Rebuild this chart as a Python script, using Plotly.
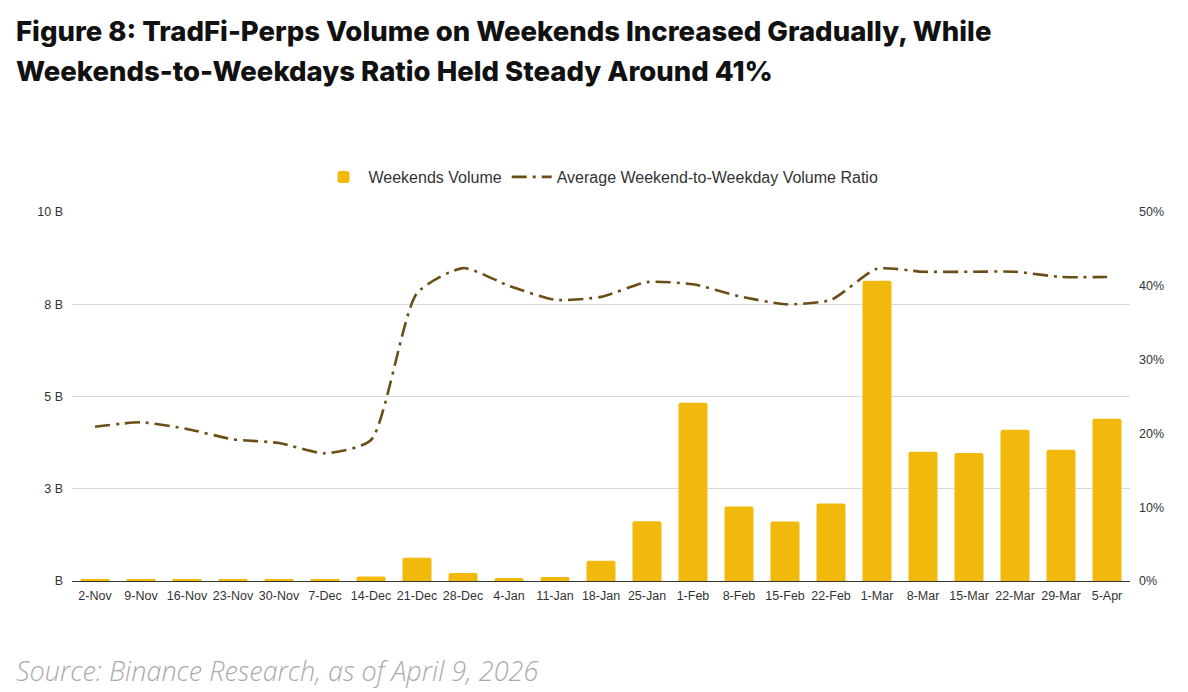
import plotly.graph_objects as go

categories = ["2-Nov", "9-Nov", "16-Nov", "23-Nov", "30-Nov", "7-Dec", "14-Dec", "21-Dec",
              "28-Dec", "4-Jan", "11-Jan", "18-Jan", "25-Jan", "1-Feb", "8-Feb", "15-Feb",
              "22-Feb", "1-Mar", "8-Mar", "15-Mar", "22-Mar", "29-Mar", "5-Apr"]
weekend_volume_b = [0.05, 0.05, 0.05, 0.05, 0.05, 0.05, 0.12, 0.63, 0.22, 0.08, 0.11, 0.55,
                    1.62, 4.83, 2.02, 1.61, 2.10, 8.14, 3.50, 3.47, 4.10, 3.56, 4.40]
ratio = [0.209, 0.215, 0.206, 0.192, 0.187, 0.173, 0.191, 0.390, 0.424, 0.400, 0.381, 0.385,
         0.405, 0.402, 0.386, 0.375, 0.381, 0.423, 0.419, 0.419, 0.419, 0.412, 0.412]
left_tickvals = [0, 2.5, 5, 7.5, 10]
left_ticktext = ["B", "3 B", "5 B", "8 B", "10 B"]
right_tickvals = [0, 0.1, 0.2, 0.3, 0.4, 0.5]

fig = go.Figure()
fig.add_trace(go.Bar(
    x=categories, y=weekend_volume_b, name="Weekends Volume",
    marker=dict(color="#F0B90B", line=dict(width=0)),
))
fig.add_trace(go.Scatter(
    x=categories, y=ratio, name="Average Weekend-to-Weekday Volume Ratio",
    mode="lines", yaxis="y2",
    line=dict(color="#6B4E16", width=2.6, dash="15px,6px,3px,6px", shape="spline", smoothing=0.6),
))

W, H = 1188, 692
L, R, T, B = 72, 58, 212, 111
pw, ph = W - L - R, H - T - B

def px(xp):
    return (xp - L) / pw

def py(yp):
    return (H - B - yp) / ph

fig.update_layout(
    width=W, height=H,
    margin=dict(l=L, r=R, t=T, b=B, autoexpand=False),
    paper_bgcolor="white", plot_bgcolor="white",
    bargap=0.37, barcornerradius=2,
    font=dict(family="Liberation Sans, Arial, sans-serif", color="#333333"),
    showlegend=True,
    legend=dict(orientation="h", x=0.5, xanchor="center", y=py(177), yanchor="middle",
                font=dict(size=16, color="#333333"), itemwidth=40, bgcolor="rgba(0,0,0,0)"),
    xaxis=dict(
        type="category", showgrid=False, showline=True, linecolor="#333333", linewidth=1,
        tickfont=dict(size=12.5, color="#333333"), ticks="", ticklabelstandoff=3,
    ),
    yaxis=dict(
        range=[0, 10], tickvals=left_tickvals, ticktext=left_ticktext,
        showgrid=True, gridcolor="#D9D9D9", gridwidth=1, zeroline=False,
        tickfont=dict(size=12.5, color="#333333"), ticks="", ticklabelstandoff=8,
    ),
    yaxis2=dict(
        range=[0, 0.5], tickvals=right_tickvals, tickformat=".0%", overlaying="y",
        side="right", showgrid=False, zeroline=False,
        tickfont=dict(size=12.5, color="#333333"), ticks="", ticklabelstandoff=8,
    ),
)

title_font = dict(family="Inter, Open Sans, sans-serif", size=27.5, color="#111111", weight=800)
fig.add_annotation(text="Figure 8: TradFi-Perps Volume on Weekends Increased Gradually, While",
                   xref="paper", yref="paper", x=px(14), y=py(31), xanchor="left", yanchor="middle",
                   showarrow=False, font=title_font)
fig.add_annotation(text="Weekends-to-Weekdays Ratio Held Steady Around 41%",
                   xref="paper", yref="paper", x=px(14), y=py(71), xanchor="left", yanchor="middle",
                   showarrow=False, font=title_font)
fig.add_annotation(text="Source: Binance Research, as of April 9, 2026",
                   xref="paper", yref="paper", x=px(14), y=py(670), xanchor="left", yanchor="middle",
                   showarrow=False,
                   font=dict(family="Open Sans, sans-serif", size=27, color="#AAAAAA",
                             style="italic", weight=300))

fig.write_html("out.html")
